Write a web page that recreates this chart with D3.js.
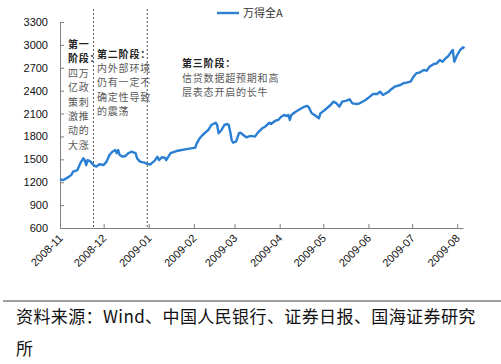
<!DOCTYPE html>
<html>
<head>
<meta charset="utf-8">
<script src="https://cdn.jsdelivr.net/npm/d3@7"></script>
<style>
  body { margin: 0; background: #fff; }
  text { font-family: "Liberation Sans", Arial, sans-serif; }
  .cjk { font-family: "Noto Sans CJK SC", "Noto Sans", sans-serif; }
</style>
</head>
<body>
<div id="chart"></div>
<script>
var width = 501;
var height = 364;

// 万得全A daily close
var dates = ["2008-11-01","2008-11-03","2008-11-04","2008-11-07","2008-11-09","2008-11-10","2008-11-13","2008-11-15","2008-11-17","2008-11-18",
  "2008-11-19","2008-11-20","2008-11-22","2008-11-24","2008-11-26","2008-11-28","2008-12-01","2008-12-03","2008-12-05","2008-12-07",
  "2008-12-09","2008-12-10","2008-12-11","2008-12-12","2008-12-14","2008-12-16","2008-12-18","2008-12-20","2008-12-23","2008-12-24",
  "2008-12-26","2008-12-29","2008-12-31","2009-01-02","2009-01-03","2009-01-05","2009-01-07","2009-01-08","2009-01-10","2009-01-12",
  "2009-01-13","2009-01-16","2009-01-21","2009-01-26","2009-02-02","2009-02-03","2009-02-05","2009-02-07","2009-02-10","2009-02-11",
  "2009-02-13","2009-02-16","2009-02-17","2009-02-18","2009-02-20","2009-02-22","2009-02-24","2009-02-25","2009-02-26","2009-02-27",
  "2009-02-28","2009-03-02","2009-03-04","2009-03-05","2009-03-07","2009-03-09","2009-03-12","2009-03-15","2009-03-17","2009-03-20",
  "2009-03-22","2009-03-24","2009-03-25","2009-03-26","2009-03-29","2009-03-31","2009-04-02","2009-04-04","2009-04-06","2009-04-07",
  "2009-04-08","2009-04-09","2009-04-12","2009-04-14","2009-04-16","2009-04-18","2009-04-20","2009-04-21","2009-04-23","2009-04-25",
  "2009-04-28","2009-04-29","2009-05-02","2009-05-06","2009-05-08","2009-05-10","2009-05-12","2009-05-14","2009-05-17","2009-05-19",
  "2009-05-21","2009-05-24","2009-05-26","2009-05-30","2009-06-02","2009-06-04","2009-06-07","2009-06-09","2009-06-11","2009-06-13",
  "2009-06-15","2009-06-16","2009-06-19","2009-06-23","2009-06-25","2009-06-27","2009-06-30","2009-07-02","2009-07-04","2009-07-06",
  "2009-07-09","2009-07-11","2009-07-13","2009-07-16","2009-07-18","2009-07-20","2009-07-22","2009-07-24","2009-07-26","2009-07-28",
  "2009-07-29","2009-07-30","2009-08-01","2009-08-03","2009-08-05","2009-08-06"];
var values = [1240,1228,1235,1270,1300,1340,1360,1450,1513,1490,
  1425,1490,1470,1425,1405,1435,1425,1470,1557,1600,
  1622,1580,1622,1557,1535,1544,1580,1600,1580,1513,
  1470,1456,1440,1432,1450,1480,1535,1490,1527,1522,
  1490,1580,1613,1631,1653,1710,1776,1819,1871,1885,
  1950,1980,1950,1841,1885,1950,1963,1950,1862,1753,
  1718,1731,1841,1850,1819,1789,1807,1798,1850,1907,
  1928,1963,1980,1963,2006,2016,2059,2081,2068,2081,
  2016,2081,2124,2147,2169,2190,2200,2182,2103,2081,
  2038,2103,2147,2212,2256,2234,2190,2256,2269,2287,
  2234,2225,2234,2278,2322,2356,2356,2387,2343,2366,
  2387,2409,2452,2474,2497,2505,2519,2584,2628,2636,
  2671,2662,2715,2750,2758,2802,2780,2824,2855,2912,
  2933,2780,2867,2933,2968,2955];

var yTicks = [600, 900, 1200, 1500, 1800, 2100, 2400, 2700, 3000, 3300];
var xTickLabels = ["2008-11","2008-12","2009-01","2009-02","2009-03","2009-04","2009-05","2009-06","2009-07","2009-08"];
var seriesName = "万得全A";

// phase split dates (dashed lines)
var phaseDates = ["2008-11-24", "2008-12-31"];
var phase1 = ["第一", "阶段：", "四万", "亿政", "策刺", "激推", "动的", "大涨"];
var phase2 = ["第二阶段：", "内外部环境", "仍有一定不", "确定性导致", "的震荡"];
var phase3 = ["第三阶段：", "信贷数据超预期和高", "层表态开启的长牛"];
var sourceLines = ["资料来源：Wind、中国人民银行、证券日报、国海证券研究", "所"];

var parseDay = d3.timeParse("%Y-%m-%d");
var parseMonth = d3.timeParse("%Y-%m");
var data = dates.map(function(d, i) { return {date: parseDay(d), value: values[i]}; });

var svg = d3.select("#chart")
    .append("svg")
    .attr("width", width)
    .attr("height", height);

var xScale = d3.scaleTime()
    .domain([parseDay("2008-11-01"), parseDay("2009-08-05")])
    .range([60, 463]);

var yScale = d3.scaleLinear()
    .domain([600, 3300])
    .range([228, 22]);

// y axis, ticks point inward
var yAxis = d3.axisLeft(yScale)
    .tickValues(yTicks)
    .tickFormat(d3.format("d"))
    .tickSizeInner(-4)
    .tickSizeOuter(0)
    .tickPadding(12);

var gy = svg.append("g")
    .attr("transform", "translate(60,0)")
    .call(yAxis);
gy.select(".domain").attr("stroke", "#808080");
gy.selectAll(".tick line").attr("stroke", "#808080");
gy.selectAll(".tick text")
    .attr("fill", "#111")
    .style("font-size", "11px");

var xAxis = d3.axisBottom(xScale)
    .tickValues(xTickLabels.map(parseMonth))
    .tickFormat(d3.timeFormat("%Y-%m"))
    .tickSizeInner(-4)
    .tickSizeOuter(0);

var gx = svg.append("g")
    .attr("transform", "translate(0,228)")
    .call(xAxis);
gx.select(".domain").attr("stroke", "#808080");
gx.selectAll(".tick line").attr("stroke", "#808080");
gx.selectAll(".tick text")
    .attr("x", 0)
    .attr("y", 0)
    .attr("dy", 0)
    .attr("transform", "translate(3,11) rotate(-45)")
    .style("text-anchor", "end")
    .attr("fill", "#111")
    .style("font-size", "11px");

// dashed phase separators
svg.selectAll(".phase")
    .data(phaseDates)
    .enter()
    .append("line")
    .attr("class", "phase")
    .attr("x1", function(d) { return xScale(parseDay(d)); })
    .attr("x2", function(d) { return xScale(parseDay(d)); })
    .attr("y1", 9)
    .attr("y2", 228)
    .attr("stroke", "#555")
    .attr("stroke-width", 1)
    .attr("stroke-dasharray", "2,2");

// the line itself
var line = d3.line()
    .x(function(d) { return xScale(d.date); })
    .y(function(d) { return yScale(d.value); });

svg.append("path")
    .datum(data)
    .attr("d", line)
    .attr("fill", "none")
    .attr("stroke", "#2B7FD3")
    .attr("stroke-width", 2.4)
    .attr("stroke-linejoin", "round");

// legend
svg.append("line")
    .attr("x1", 217).attr("x2", 239)
    .attr("y1", 13).attr("y2", 13)
    .attr("stroke", "#2B7FD3")
    .attr("stroke-width", 2.4);
svg.append("text")
    .attr("class", "cjk")
    .attr("x", 243)
    .attr("y", 17)
    .attr("fill", "#333")
    .style("font-size", "11px")
    .text(seriesName);

// phase annotations (first line of each is the bold heading)
function annotate(lines, x, y0, step, bold) {
    svg.append("g")
        .selectAll("text")
        .data(lines)
        .enter()
        .append("text")
        .attr("class", "cjk")
        .attr("x", x)
        .attr("y", function(d, i) { return y0 + i * step; })
        .attr("fill", function(d, i) { return i < bold ? "#222" : "#595959"; })
        .style("font-weight", function(d, i) { return i < bold ? "bold" : "normal"; })
        .style("font-size", "10px")
        .style("letter-spacing", "0.8px")
        .text(function(d) { return d; });
}
annotate(phase1, 68, 48, 14.4, 2);
annotate(phase2, 97, 58, 14.2, 1);
annotate(phase3, 182, 67, 14.5, 1);

// source footer
svg.append("line")
    .attr("x1", 3).attr("x2", 501)
    .attr("y1", 301).attr("y2", 301)
    .attr("stroke", "#808080")
    .attr("stroke-width", 1.5);

svg.selectAll(".source")
    .data(sourceLines)
    .enter()
    .append("text")
    .attr("class", "cjk source")
    .attr("x", 16)
    .attr("y", function(d, i) { return 323 + i * 32; })
    .attr("fill", "#111")
    .style("font-size", "17px")
    .style("letter-spacing", "0.4px")
    .text(function(d) { return d; });
</script>
</body>
</html>
